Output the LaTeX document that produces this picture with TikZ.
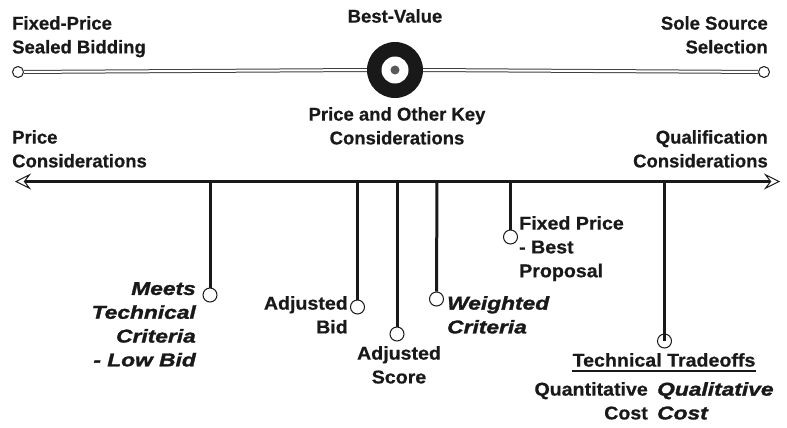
\documentclass[tikz,border=0pt]{standalone}
\usepackage{fontspec}
\setmainfont{Liberation Sans}
\newfontfamily\blackit[FakeBold=1.6,FakeStretch=1.23]{Liberation Sans Bold Italic}
\newfontfamily\heavy[FakeBold=0.6]{Liberation Sans Bold}
\newfontfamily\heavywide[FakeBold=0.6,FakeStretch=1.06]{Liberation Sans Bold}
\usetikzlibrary{arrows.meta}
\tikzset{
  lbl/.style={font=\heavy\fontsize{18.5}{23.8}\selectfont, inner sep=0pt, text=black!90},
  wlbl/.style={font=\heavywide\fontsize{18.5}{23.8}\selectfont, inner sep=0pt, text=black!90},
  ilbl/.style={font=\blackit\fontsize{18.5}{23.8}\selectfont, inner sep=0pt, text=black!90},
  pin/.style={circle, draw=black!90, fill=white, line width=1pt, minimum size=14pt, inner sep=0pt},
  endpt/.style={circle, draw=black!90, fill=white, line width=1pt, minimum size=11pt, inner sep=0pt},
  stem/.style={draw=black!90, line width=3pt},
  rail/.style={draw=black!75, line width=1pt, double=white, double distance=2pt},
  axisarrow/.style={draw=black!90, line width=3pt,
     {Stealth[open, length=16pt, width=16pt, inset=6pt, line width=1pt]}-{Stealth[open, length=16pt, width=16pt, inset=6pt, line width=1pt]}}
}
\begin{document}
\begin{tikzpicture}[x=1pt,y=-1pt]
\useasboundingbox (0,0) rectangle (787,428);
% top rail
\node[endpt] (L) at (18,72) {};
\node[endpt] (R) at (764,72) {};
\node[circle, fill=black!90, minimum size=56pt, inner sep=0pt] (T) at (395,70) {};
\node[circle, fill=white, minimum size=27pt, inner sep=0pt] (Tw) at (395,70) {};
\node[circle, fill=black!65, minimum size=9pt, inner sep=0pt] (Td) at (395,70) {};
\draw[rail] (L) -- (T.west);
\draw[rail] (T.east) -- (R);
\node[lbl, anchor=north west, align=left] (fp) at (12,16) {Fixed-Price\\Sealed Bidding};
\node[lbl, anchor=north] (bv) at (395,9) {Best-Value};
\node[lbl, anchor=north east, align=right] (ss) at (768,16) {Sole Source\\Selection};
\node[lbl, anchor=north, align=center] (pok) at (397,107) {Price and Other Key\\Considerations};
\node[lbl, anchor=north west, align=left] (pc) at (12,130) {Price\\Considerations};
\node[lbl, anchor=north east, align=right] (qc) at (768,130) {Qualification\\Considerations};
% axis
\coordinate (A1) at (15,181.5);
\coordinate (A2) at (780,181.5);
\draw[axisarrow] (A1) -- (A2);
% stems
\coordinate (s1) at (210,181.5);
\coordinate (s2) at (357.5,181.5);
\coordinate (s3) at (397,181.5);
\coordinate (s4) at (437,181.5);
\coordinate (s5) at (510.5,181.5);
\coordinate (s6) at (664.5,181.5);
\node[pin] (p1) at (210,295) {};
\node[pin] (p2) at (357.5,307) {};
\node[pin] (p3) at (397,334) {};
\node[pin] (p4) at (436.5,299) {};
\node[pin] (p5) at (510.5,237) {};
\node[pin] (p6) at (664.5,341) {};
\draw[stem] (s1) -- (p1.north);
\draw[stem] (s2) -- (p2.north);
\draw[stem] (s3) -- (p3.north);
\draw[stem] (s4) -- (p4.north);
\draw[stem] (s5) -- (p5.north);
\draw[stem] (s6) -- (p6.north);
\draw[draw=black!90, line width=3pt] (p6.north) -- (p6.center);
% labels
\node[ilbl, anchor=north east, align=right] (m) at (196,282) {Meets\\Technical\\Criteria\\- Low Bid};
\node[wlbl, anchor=north east, align=right] (ab) at (348,296) {Adjusted\\Bid};
\node[wlbl, anchor=north, align=center] (as) at (399,346) {Adjusted\\Score};
\node[ilbl, anchor=north west, align=left] (wc) at (447,296) {Weighted\\Criteria};
\node[wlbl, anchor=north west, align=left] (fbp) at (519,216) {Fixed Price\\- Best\\Proposal};
\node[wlbl, anchor=north] (tt) at (664,353) {Technical Tradeoffs};
\draw[draw=black!90, line width=2pt] ([yshift=-4pt]tt.south west) -- ([yshift=-4pt]tt.south east);
\node[wlbl, anchor=north east, align=right] (qn) at (648,382) {Quantitative\\Cost};
\node[ilbl, anchor=north west, align=left] (ql) at (657,382) {Qualitative\\Cost};
\end{tikzpicture}
\end{document}
